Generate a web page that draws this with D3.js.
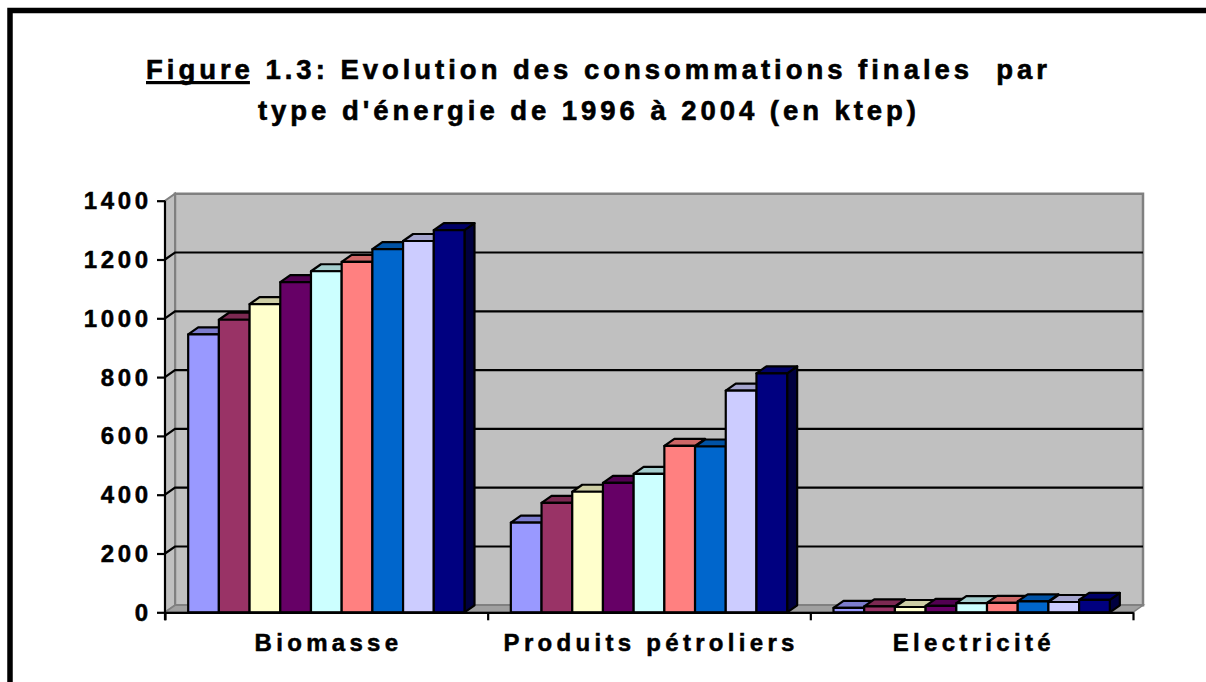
<!DOCTYPE html>
<html><head><meta charset="utf-8">
<script src="https://cdn.jsdelivr.net/npm/d3@7"></script>
<style>html,body{margin:0;padding:0;background:#fff;overflow:hidden}</style>
</head><body>
<svg id="c" width="1206" height="682"></svg>
<script>
const categories = ["Biomasse", "Produits pétroliers", "Electricité"];
const years = ["1996","1997","1998","1999","2000","2001","2002","2003","2004"];
const biomasse = [945, 995, 1048, 1123, 1160, 1192, 1235, 1263, 1300];
const produitsPetroliers = [305, 372, 410, 440, 471, 566, 564, 754, 813];
const electricite = [15, 20, 18, 22, 31, 32, 37, 35, 42];
const yTicks = [0, 200, 400, 600, 800, 1000, 1200, 1400];
const seriesColors = ["#9999FF","#993366","#FFFFCC","#660066","#CCFFFF","#FF8080","#0066CC","#CCCCFF","#000080"];
const titleLines = ["Figure 1.3: Evolution des consommations finales  par", "type d'énergie de 1996 à 2004 (en ktep)"];

const values = [biomasse, produitsPetroliers, electricite];
const svg = d3.select("#c");
const font = "'Liberation Sans', Arial, Helvetica, sans-serif";

// outer frame
svg.append("rect").attr("x",10).attr("y",10.5).attr("width",1400).attr("height",1000)
  .attr("fill","none").attr("stroke","#000").attr("stroke-width",5.5);

const x0 = 165, x1 = 1133, dx = 10, dy = -7;
const y = d3.scaleLinear().domain([0, 1400]).range([612.3, 200.7]);
const xCat = d3.scaleBand().domain(categories).range([x0, x1]).padding(0);
const xYear = d3.scaleBand().domain(years).range([0, xCat.bandwidth()]).paddingInner(0).paddingOuter(0.755);
const line = d3.line();
const yb = y(0), yt = y(1400);

// walls and floor
const g = svg.append("g");
g.append("path").attr("d", line([[x0+dx,yt+dy],[x1+dx,yt+dy],[x1+dx,yb+dy],[x0+dx,yb+dy]])+"Z")
  .attr("fill","#c0c0c0").attr("stroke","#808080").attr("stroke-width",2.5);
g.append("path").attr("d", line([[x0,yb],[x0,yt],[x0+dx,yt+dy],[x0+dx,yb+dy]])+"Z")
  .attr("fill","#c0c0c0").attr("stroke","#808080").attr("stroke-width",2);
g.append("path").attr("d", line([[x0,yb],[x1,yb],[x1+dx,yb+dy],[x0+dx,yb+dy]])+"Z")
  .attr("fill","#a0a0a0").attr("stroke","#808080").attr("stroke-width",1.5);

// gridlines
const gridVals = yTicks.filter(v => v > 0 && v < 1400);
g.selectAll(".grid").data(gridVals).join("path").attr("class","grid")
  .attr("d", v => line([[x0, y(v)], [x0+dx, y(v)+dy], [x1+dx, y(v)+dy]]))
  .attr("fill","none").attr("stroke","#000").attr("stroke-width",2.2);

// bars
const bars = svg.append("g").attr("stroke","#000").attr("stroke-width",2.2).attr("stroke-linejoin","round");
categories.forEach((cat, ci) => {
  years.forEach((yr, i) => {
    const v = values[ci][i];
    const xl = xCat(cat) + xYear(yr), w = xYear.bandwidth(), ty = y(v);
    const col = d3.color(seriesColors[i]);
    bars.append("path").attr("d", line([[xl+w,yb],[xl+w,ty],[xl+w+dx,ty+dy],[xl+w+dx,yb+dy]])+"Z")
      .attr("fill", col.darker(2).formatHex());
    bars.append("path").attr("d", line([[xl,ty],[xl+w,ty],[xl+w+dx,ty+dy],[xl+dx,ty+dy]])+"Z")
      .attr("fill", col.darker(0.6).formatHex());
    bars.append("rect").attr("x", xl).attr("y", ty).attr("width", w).attr("height", yb-ty)
      .attr("fill", col.formatHex());
  });
});

// axes
const yAxis = d3.axisLeft(y).tickValues(yTicks).tickSize(8).tickSizeOuter(0).tickFormat("");
const ya = svg.append("g").attr("transform", `translate(${x0},0)`).call(yAxis);
const xEdge = d3.scaleLinear().domain([0, categories.length]).range([x0, x1]);
const xAxis = d3.axisBottom(xEdge).tickValues(d3.range(categories.length+1)).tickSize(8).tickSizeOuter(0).tickFormat("");
const xa = svg.append("g").attr("transform", `translate(0,${yb})`).call(xAxis);
[ya, xa].forEach(a => { a.selectAll("path,line").attr("stroke","#000").attr("stroke-width",2.2); });
ya.select(".domain").attr("d", `M0,${yt}V${yb+8}`);

// y tick labels
const ls = 3.6;
svg.append("g").selectAll("text").data(yTicks).join("text")
  .attr("x", 148 + ls).attr("y", v => y(v) + 8.5)
  .attr("text-anchor","end").attr("font-family", font).attr("font-weight","bold")
  .attr("font-size", 24).attr("letter-spacing", ls).attr("fill","#000")
  .attr("stroke","#000").attr("stroke-width",0.5)
  .text(v => v);

// category labels
const lsx = 4.3;
svg.append("g").selectAll("text").data(categories).join("text")
  .attr("x", c => xCat(c) + xCat.bandwidth()/2 + lsx/2).attr("y", 651)
  .attr("text-anchor","middle").attr("font-family", font).attr("font-weight","bold")
  .attr("font-size", 24).attr("letter-spacing", lsx).attr("fill","#000")
  .attr("stroke","#000").attr("stroke-width",0.5)
  .text(c => c);

// title
const tpos = [{x:146, y:79, len:901}, {x:258, y:120, len:658}];
const tt = svg.append("g").selectAll("text").data(titleLines).join("text")
  .attr("x", (d,i) => tpos[i].x).attr("y", (d,i) => tpos[i].y)
  .attr("textLength", (d,i) => tpos[i].len).attr("lengthAdjust","spacing")
  .style("white-space","pre")
  .attr("font-family", font).attr("font-weight","bold").attr("font-size", 27.5).attr("fill","#000")
  .attr("stroke","#000").attr("stroke-width",0.6)
  .text(d => d);
const t0 = tt.nodes()[0];
const e0 = t0.getExtentOfChar(0), e5 = t0.getExtentOfChar(5);
svg.append("rect").attr("x", e0.x).attr("y", 81).attr("width", e5.x + e5.width - e0.x).attr("height", 3.2).attr("fill","#000");
</script>
</body></html>
